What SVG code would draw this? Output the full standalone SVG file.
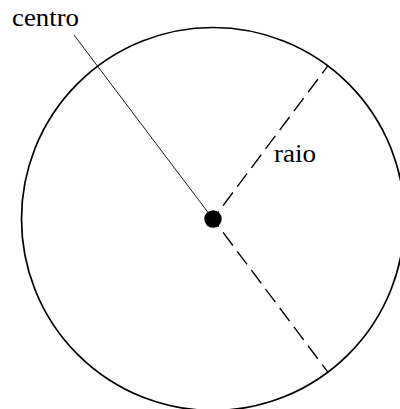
<svg xmlns="http://www.w3.org/2000/svg" width="400" height="409" viewBox="0 0 400 409">
<style>
.lbl{font-family:"Liberation Serif","Times New Roman",serif;font-size:25px;fill:#000}
.dash{stroke:#000;stroke-width:1.4;fill:none;stroke-dasharray:16.3 7.3;stroke-dashoffset:6.8}
</style>
<rect width="400" height="409" fill="#fff"/>
<g id="circle">
<circle cx="213" cy="219" r="191.5" fill="none" stroke="#000" stroke-width="1.7"/>
</g>
<g id="connectors">
<line x1="74" y1="35" x2="213" y2="219" stroke="#000" stroke-width="0.9"/>
<line class="dash" x1="213" y1="219" x2="327.9" y2="65.8"/>
<line class="dash" x1="213" y1="219" x2="327.9" y2="372.2"/>
</g>
<g id="centre">
<circle cx="213" cy="219" r="8.7" fill="#000"/>
</g>
<g id="label-centro">
<text class="lbl" x="12" y="26" textLength="67" lengthAdjust="spacingAndGlyphs">centro</text>
</g>
<g id="label-raio">
<text class="lbl" x="274" y="162" textLength="42" lengthAdjust="spacingAndGlyphs">raio</text>
</g>
</svg>
